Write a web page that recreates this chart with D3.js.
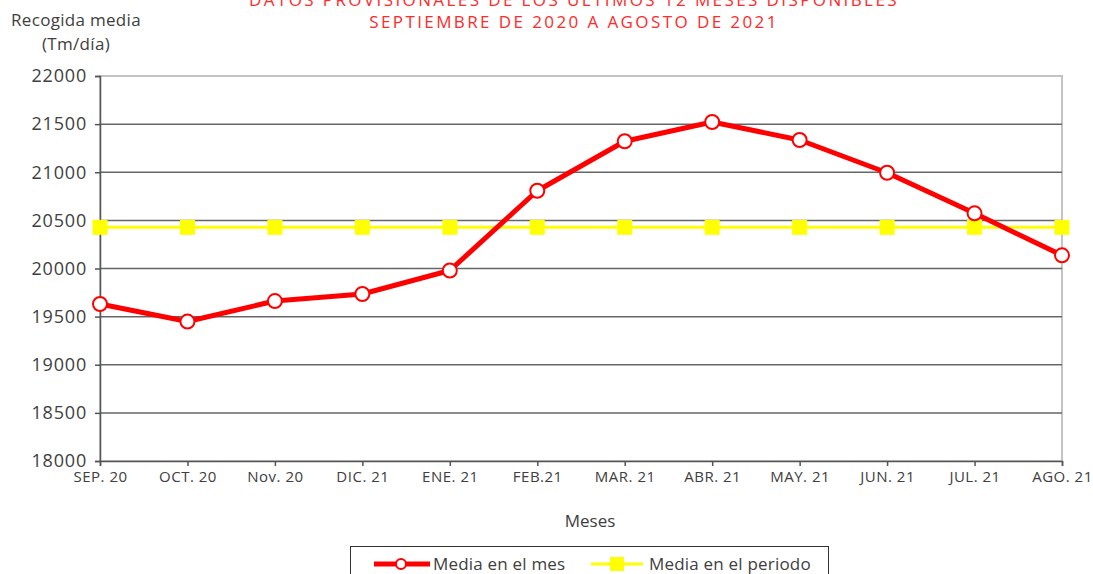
<!DOCTYPE html>
<html>
<head>
<meta charset="utf-8">
<script src="https://cdn.jsdelivr.net/npm/d3@7"></script>
<style>
  html, body { margin: 0; padding: 0; background: #fff; }
  svg { display: block; font-family: "Open Sans", "DejaVu Sans", sans-serif; }
</style>
</head>
<body>
<svg id="chart" width="1093" height="574"></svg>
<script>
// Monthly average waste collection (Tm/día), Sept 2020 – Aug 2021
const months = ["SEP. 20", "OCT. 20", "Nov. 20", "DIC. 21", "ENE. 21", "FEB.21",
                "MAR. 21", "ABR. 21", "MAY. 21", "JUN. 21", "JUL. 21", "AGO. 21"];
const monthlyMean = [19631, 19449, 19662, 19735, 19979, 20808,
                     21322, 21522, 21335, 20995, 20573, 20137];
const periodMean = [20428, 20428, 20428, 20428, 20428, 20428,
                    20428, 20428, 20428, 20428, 20428, 20428];
const yTicks = [18000, 18500, 19000, 19500, 20000, 20500, 21000, 21500, 22000];
const titleLines = ["DATOS PROVISIONALES DE LOS ÚLTIMOS 12 MESES DISPONIBLES",
                    "SEPTIEMBRE DE 2020 A AGOSTO DE 2021"];
const seriesNames = ["Media en el mes", "Media en el periodo"];

const svg = d3.select("#chart");
const plot = { left: 100, right: 1062, top: 76, bottom: 461 };
const textColor = "#404040";

const x = d3.scalePoint().domain(months).range([plot.left, plot.right]).padding(0);
const y = d3.scaleLinear().domain([18000, 22000]).range([plot.bottom, plot.top]);

// Plot frame (light) and horizontal gridlines (dark)
svg.append("rect")
  .attr("x", plot.left).attr("y", plot.top)
  .attr("width", plot.right - plot.left).attr("height", plot.bottom - plot.top)
  .attr("fill", "none").attr("stroke", "#c4c4c4").attr("stroke-width", 2);

svg.append("g").selectAll("line")
  .data(yTicks.filter(v => v > 18000 && v < 22000))
  .join("line")
  .attr("x1", plot.left).attr("x2", plot.right)
  .attr("y1", d => y(d)).attr("y2", d => y(d))
  .attr("stroke", "#666").attr("stroke-width", 1.5);

// Y axis
const yAxis = svg.append("g")
  .attr("transform", `translate(${plot.left},0)`)
  .call(d3.axisLeft(y).tickValues(yTicks).tickSize(5).tickPadding(8).tickFormat(d3.format("d")));
yAxis.select(".domain").attr("stroke", "#555").attr("stroke-width", 1.5);
yAxis.selectAll(".tick line").attr("stroke", "#555").attr("stroke-width", 1.5);
yAxis.selectAll("text").attr("fill", textColor)
  .style("font-size", "18px").style("letter-spacing", "0.8px")
  .attr("font-family", "Open Sans, sans-serif");

// X axis
const xAxis = svg.append("g")
  .attr("transform", `translate(0,${plot.bottom})`)
  .call(d3.axisBottom(x).tickSize(5).tickPadding(5));
xAxis.select(".domain").attr("stroke", "#555").attr("stroke-width", 1.5);
xAxis.selectAll(".tick line").attr("stroke", "#555").attr("stroke-width", 1.5);
xAxis.selectAll("text").attr("fill", textColor)
  .style("font-size", "15px").style("letter-spacing", "0.5px")
  .attr("font-family", "Open Sans, sans-serif");

// Period mean (yellow with square markers)
const line = d3.line().x((d, i) => x(months[i])).y(d => y(d));
svg.append("path").datum(periodMean)
  .attr("d", line).attr("fill", "none")
  .attr("stroke", "#ffff00").attr("stroke-width", 3);
svg.append("g").selectAll("rect")
  .data(periodMean)
  .join("rect")
  .attr("x", (d, i) => x(months[i]) - 7.5)
  .attr("y", d => y(d) - 7.5)
  .attr("width", 15).attr("height", 15)
  .attr("fill", "#ffff00");

// Monthly mean (red with hollow circles)
svg.append("path").datum(monthlyMean)
  .attr("d", line).attr("fill", "none")
  .attr("stroke", "#ff0000").attr("stroke-width", 5)
  .attr("stroke-linejoin", "round");
svg.append("g").selectAll("circle")
  .data(monthlyMean)
  .join("circle")
  .attr("cx", (d, i) => x(months[i]))
  .attr("cy", d => y(d))
  .attr("r", 7)
  .attr("fill", "#fff").attr("stroke", "#ff0000").attr("stroke-width", 2);

// Title
svg.append("g").selectAll("text")
  .data(titleLines)
  .join("text")
  .attr("x", 574).attr("y", (d, i) => 6 + i * 22)
  .attr("text-anchor", "middle")
  .attr("fill", "#ff2a2a")
  .style("font-size", "17px").style("letter-spacing", "2.4px")
  .text(d => d);

// Y axis title
svg.append("text").attr("x", 76).attr("y", 26).attr("text-anchor", "middle")
  .attr("fill", textColor).style("font-size", "17px").style("letter-spacing", "0.3px")
  .text("Recogida media");
svg.append("text").attr("x", 76).attr("y", 50).attr("text-anchor", "middle")
  .attr("fill", textColor).style("font-size", "17px").style("letter-spacing", "0.3px")
  .text("(Tm/día)");

// X axis title
svg.append("text").attr("x", 590).attr("y", 527).attr("text-anchor", "middle")
  .attr("fill", textColor).style("font-size", "17px").text("Meses");

// Legend
const legend = svg.append("g");
legend.append("rect").attr("x", 350.5).attr("y", 546.5)
  .attr("width", 478).attr("height", 40)
  .attr("fill", "#fff").attr("stroke", "#333").attr("stroke-width", 1);
legend.append("line").attr("x1", 374).attr("x2", 430).attr("y1", 564).attr("y2", 564)
  .attr("stroke", "#ff0000").attr("stroke-width", 5);
legend.append("circle").attr("cx", 401).attr("cy", 564).attr("r", 5)
  .attr("fill", "#fff").attr("stroke", "#ff0000").attr("stroke-width", 2);
legend.append("text").attr("x", 433).attr("y", 570)
  .attr("fill", textColor).style("font-size", "17px").style("letter-spacing", "0.2px")
  .text(seriesNames[0]);
legend.append("line").attr("x1", 591).attr("x2", 643).attr("y1", 564).attr("y2", 564)
  .attr("stroke", "#ffff00").attr("stroke-width", 3);
legend.append("rect").attr("x", 610).attr("y", 557).attr("width", 14).attr("height", 14)
  .attr("fill", "#ffff00");
legend.append("text").attr("x", 649).attr("y", 570)
  .attr("fill", textColor).style("font-size", "17px").style("letter-spacing", "0.2px")
  .text(seriesNames[1]);
</script>
</body>
</html>
